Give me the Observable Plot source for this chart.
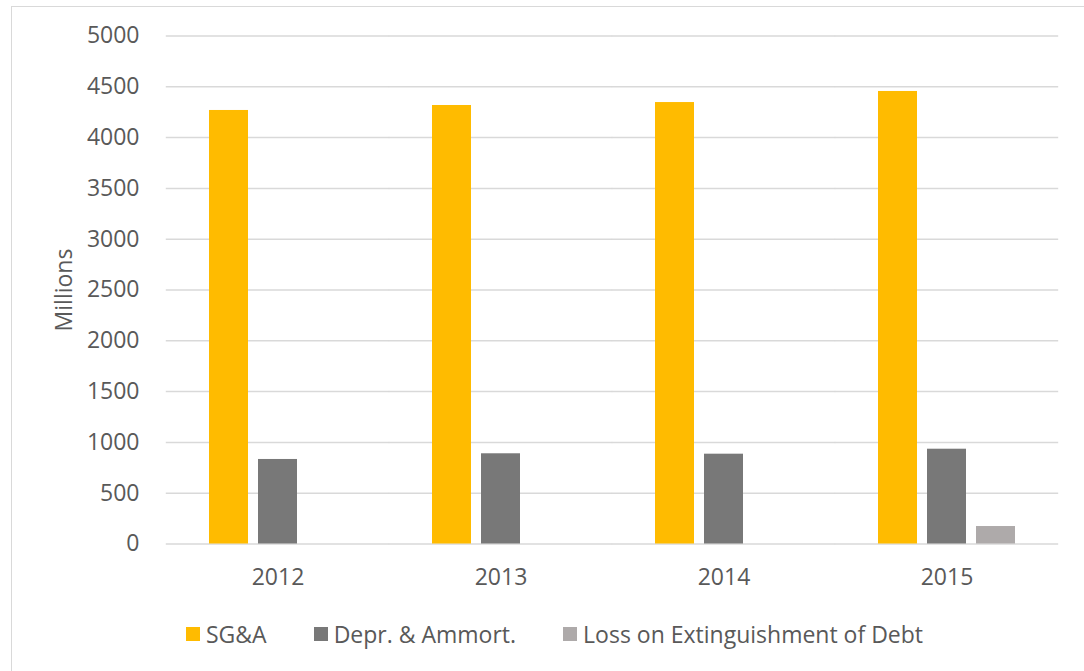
<!DOCTYPE html>
<html>
<head>
<meta charset="utf-8">
<script src="https://cdn.jsdelivr.net/npm/d3@7"></script>
<script src="https://cdn.jsdelivr.net/npm/@observablehq/plot@0.6"></script>
<style>
  html, body { margin: 0; padding: 0; background: #fff; }
  body { width: 1084px; height: 671px; overflow: hidden; position: relative; font-family: "Open Sans", sans-serif; color: #595959; }
  #frame { position: absolute; left: 11px; top: 6px; width: 1100px; height: 700px; border: 1.5px solid #d9d9d9; box-sizing: border-box; }
  #chart { position: absolute; left: 0; top: 0; }
  #ylabel { position: absolute; left: 63px; top: 290px; transform: translate(-50%, -50%) rotate(-90deg); font-size: 23px; white-space: nowrap; }
  #legend { position: absolute; left: 186px; top: 618px; display: flex; gap: 47px; font-size: 23px; align-items: center; }
  .item { display: flex; align-items: center; gap: 6px; }
  .sw { width: 14px; height: 14px; display: inline-block; }
</style>
</head>
<body>
<div id="frame"></div>
<div id="chart"></div>
<div id="ylabel">Millions</div>
<div id="legend"></div>
<script>
const years = ["2012", "2013", "2014", "2015"];
const series = ["SG&A", "Depr. & Ammort.", "Loss on Extinguishment of Debt"];
const colors = ["#FFBB00", "#787878", "#AEAAAA"];
const sgaValues = [4267, 4316, 4345, 4454];
const deprValues = [832, 888, 884, 933];
const lossValues = [0, 0, 0, 172];
const yTicks = [0, 500, 1000, 1500, 2000, 2500, 3000, 3500, 4000, 4500, 5000];

const valuesBySeries = [sgaValues, deprValues, lossValues];
const data = [];
years.forEach((yr, i) => {
  series.forEach((s, j) => {
    const v = valuesBySeries[j][i];
    if (v > 0) data.push({year: yr, series: s, value: v});
  });
});

const plot = Plot.plot({
  width: 1084,
  height: 600,
  marginTop: 35.5,
  marginBottom: 56.5,
  marginLeft: 165,
  marginRight: 26,
  style: {fontFamily: "'Open Sans', sans-serif", fontSize: "23px", color: "#595959", background: "transparent"},
  fx: {domain: years, paddingInner: 0.377, paddingOuter: 0.1885, label: null},
  x: {domain: series, paddingInner: 0.2, paddingOuter: 0, axis: null},
  y: {domain: [0, 5000], ticks: yTicks, label: null},
  color: {domain: series, range: colors},
  marks: [
    Plot.ruleY(yTicks, {stroke: "#d9d9d9", strokeWidth: 1.5, insetLeft: -42.2, insetRight: -42.2}),
    Plot.barY(data, {fx: "year", x: "series", y: "value", fill: "series"}),
    Plot.axisFx({anchor: "bottom", tickSize: 0, tickPadding: 25, label: null, fontSize: 23}),
    Plot.axisY({ticks: yTicks, tickFormat: d => String(d), tickSize: 0, tickPadding: 69, label: null, fontSize: 23})
  ]
});
document.getElementById("chart").appendChild(plot);

const legend = document.getElementById("legend");
series.forEach((s, j) => {
  const item = document.createElement("div");
  item.className = "item";
  const sw = document.createElement("span");
  sw.className = "sw";
  sw.style.background = colors[j];
  const t = document.createElement("span");
  t.textContent = s;
  item.appendChild(sw);
  item.appendChild(t);
  legend.appendChild(item);
});
</script>
</body>
</html>
